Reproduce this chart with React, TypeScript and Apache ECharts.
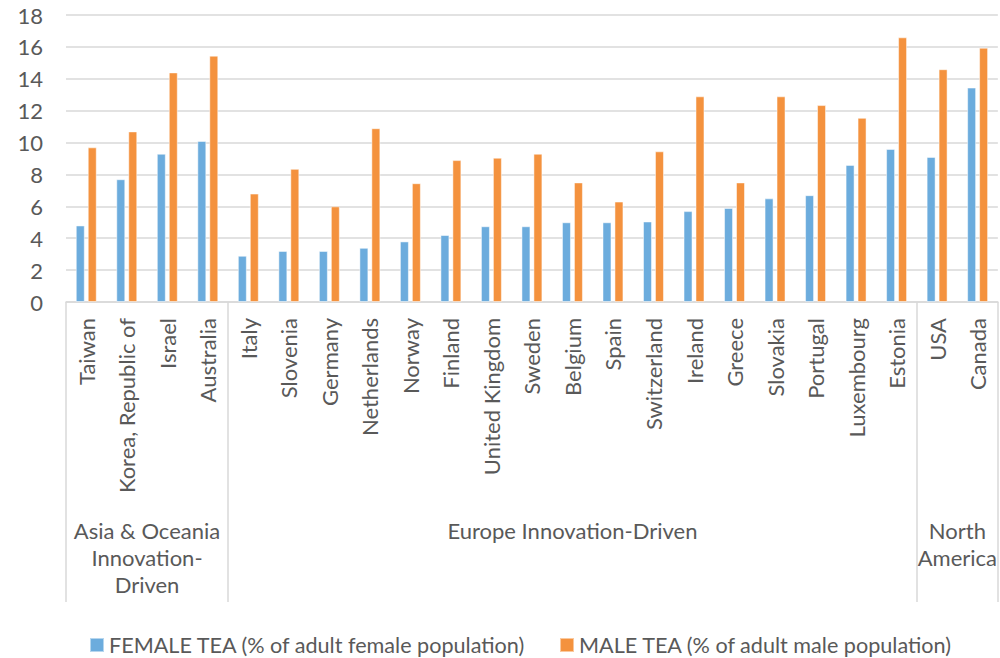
import React, { useEffect, useRef } from "react";
import * as echarts from "echarts";

const countries = [
  "Taiwan", "Korea, Republic of", "Israel", "Australia",
  "Italy", "Slovenia", "Germany", "Netherlands", "Norway", "Finland",
  "United Kingdom", "Sweden", "Belgium", "Spain", "Switzerland", "Ireland",
  "Greece", "Slovakia", "Portugal", "Luxembourg", "Estonia",
  "USA", "Canada",
];
const femaleTEA = [
  4.8, 7.7, 9.3, 10.1,
  2.9, 3.2, 3.2, 3.4, 3.8, 4.2, 4.75, 4.75, 5.0, 5.0, 5.05, 5.7,
  5.9, 6.5, 6.7, 8.6, 9.6,
  9.1, 13.45,
];
const maleTEA = [
  9.7, 10.7, 14.4, 15.45,
  6.8, 8.35, 6.0, 10.9, 7.45, 8.9, 9.05, 9.3, 7.5, 6.3, 9.45, 12.9,
  7.5, 12.9, 12.35, 11.55, 16.6,
  14.6, 15.95,
];
const regionNames = ["Asia & Oceania\nInnovation-\nDriven", "Europe Innovation-Driven", "North\nAmerica"];
const regionSizes = [4, 17, 2];
const yTicks = { min: 0, max: 18, interval: 2 };
const seriesNames = ["FEMALE TEA (% of adult female population)", "MALE TEA (% of adult male population)"];

const FONT = "Lato, 'Open Sans', sans-serif";
const TXT = "#595959";
const LINE = "#d9d9d9";

export default function App() {
  const ref = useRef<HTMLDivElement>(null);
  useEffect(() => {
    document.body.style.margin = "0";
    if (!ref.current) return;
    const chart = echarts.init(ref.current, undefined, { renderer: "svg" });

    const bounds: number[] = [0];
    const centers: number[] = [];
    regionSizes.forEach((s) => {
      const start = bounds[bounds.length - 1];
      bounds.push(start + s);
      centers.push(start + s / 2);
    });
    const total = countries.length;

    chart.setOption({
      animation: false,
      textStyle: { fontFamily: FONT },
      grid: { left: 66, right: 1, top: 15, bottom: 356, containLabel: false },
      legend: {
        data: seriesNames,
        left: 84,
        top: 629,
        itemWidth: 14,
        itemHeight: 14,
        itemGap: 33,
        icon: "rect",
        textStyle: { fontSize: 21.6, color: TXT, fontFamily: FONT },
      },
      xAxis: [
        {
          type: "category",
          data: countries,
          position: "bottom",
          axisLine: { show: true, lineStyle: { color: LINE, width: 1.5 } },
          axisTick: { show: false },
          axisLabel: {
            interval: 0,
            rotate: 90,
            margin: 16,
            fontSize: 22,
            color: TXT,
            fontFamily: FONT,
          },
        },
        {
          type: "value",
          min: 0,
          max: total,
          position: "bottom",
          axisLine: { show: false },
          splitLine: { show: false },
          axisTick: {
            show: true,
            customValues: bounds,
            length: 300,
            lineStyle: { color: LINE, width: 1.5 },
          },
          axisLabel: {
            show: true,
            customValues: centers,
            formatter: (v: number) => {
              const i = centers.findIndex((c) => Math.abs(c - v) < 1e-6);
              return i >= 0 ? regionNames[i] : "";
            },
            margin: 215,
            fontSize: 22,
            lineHeight: 27,
            color: TXT,
            fontFamily: FONT,
            align: "center",
          },
        },
      ],
      yAxis: {
        type: "value",
        min: yTicks.min,
        max: yTicks.max,
        interval: yTicks.interval,
        axisLine: { show: false },
        axisTick: { show: false },
        splitLine: { lineStyle: { color: LINE, width: 1.5 } },
        axisLabel: { fontSize: 22, color: TXT, margin: 23, fontFamily: FONT },
      },
      series: [
        {
          name: seriesNames[0],
          type: "bar",
          data: femaleTEA,
          barWidth: 9,
          barGap: "33%",
          itemStyle: { color: "#6cacdd", borderColor: "rgba(255,255,255,0.5)", borderWidth: 1 },
        },
        {
          name: seriesNames[1],
          type: "bar",
          data: maleTEA,
          barWidth: 9,
          itemStyle: { color: "#f4923e", borderColor: "rgba(255,255,255,0.5)", borderWidth: 1 },
        },
      ],
    });
    return () => chart.dispose();
  }, []);
  return <div ref={ref} style={{ width: 1000, height: 658 }} />;
}
